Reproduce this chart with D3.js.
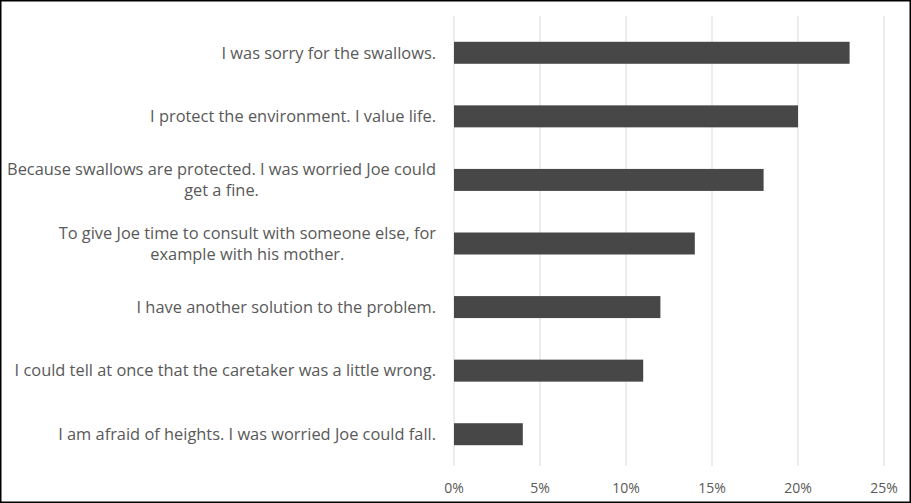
<!DOCTYPE html>
<html><head><meta charset="utf-8">
<script src="https://cdn.jsdelivr.net/npm/d3@7"></script>
<style>html,body{margin:0;padding:0;background:#fff;}svg{display:block;}</style>
</head><body>
<script>
const categories = [
  ["I was sorry for the swallows."],
  ["I protect the environment. I value life."],
  ["Because swallows are protected. I was worried Joe could", "get a fine."],
  ["To give Joe time to consult with someone else, for", "example with his mother."],
  ["I have another solution to the problem."],
  ["I could tell at once that the caretaker was a little wrong."],
  ["I am afraid of heights. I was worried Joe could fall."]
];
const values = [23, 20, 18, 14, 12, 11, 4];
const tickValues = [0, 5, 10, 15, 20, 25];

const W = 911, H = 503;
const svg = d3.select("body").append("svg").attr("width", W).attr("height", H);
svg.append("rect").attr("x", 0.75).attr("y", 0.75).attr("width", W - 1.5).attr("height", H - 1.5)
  .attr("fill", "#fff").attr("stroke", "#000").attr("stroke-width", 1.5);

const x = d3.scaleLinear().domain([0, 25]).range([454, 884]);
const y = d3.scaleBand().domain(d3.range(categories.length)).range([21, 466]).paddingInner(0.654).paddingOuter(0.327);

const font = "Open Sans, sans-serif";
const textColor = "#595959";
const labelRight = 436;

// gridlines
svg.append("g").selectAll("line").data(tickValues).join("line")
  .attr("x1", d => x(d)).attr("x2", d => x(d)).attr("y1", 16).attr("y2", 466)
  .attr("stroke", "#d9d9d9").attr("stroke-width", 1);

// bars
svg.append("g").selectAll("rect").data(values).join("rect")
  .attr("x", x(0)).attr("y", (d, i) => y(i)).attr("width", d => x(d) - x(0)).attr("height", y.bandwidth())
  .attr("fill", "#474747");

// x tick labels
svg.append("g").selectAll("text").data(tickValues).join("text")
  .attr("x", d => x(d)).attr("y", 488).attr("dy", "0.35em").attr("text-anchor", "middle")
  .attr("font-family", font).attr("font-size", 14).attr("fill", textColor)
  .text(d => d + "%");

// category labels: lines centred within a block that is right-aligned
const lab = svg.append("g").selectAll("g").data(categories).join("g")
  .attr("transform", (d, i) => `translate(0,${y(i) + y.bandwidth() / 2})`);
lab.each(function(lines) {
  const g = d3.select(this);
  const n = lines.length, lh = 21;
  const texts = lines.map((t, k) => g.append("text")
      .attr("y", (k - (n - 1) / 2) * lh)
      .attr("dy", "0.35em")
      .attr("text-anchor", "middle")
      .attr("font-family", font).attr("font-size", 16.4).attr("fill", textColor)
      .text(t));
  const maxW = d3.max(texts, t => t.node().getComputedTextLength());
  texts.forEach(t => t.attr("x", labelRight - maxW / 2));
});
</script>
</body></html>
